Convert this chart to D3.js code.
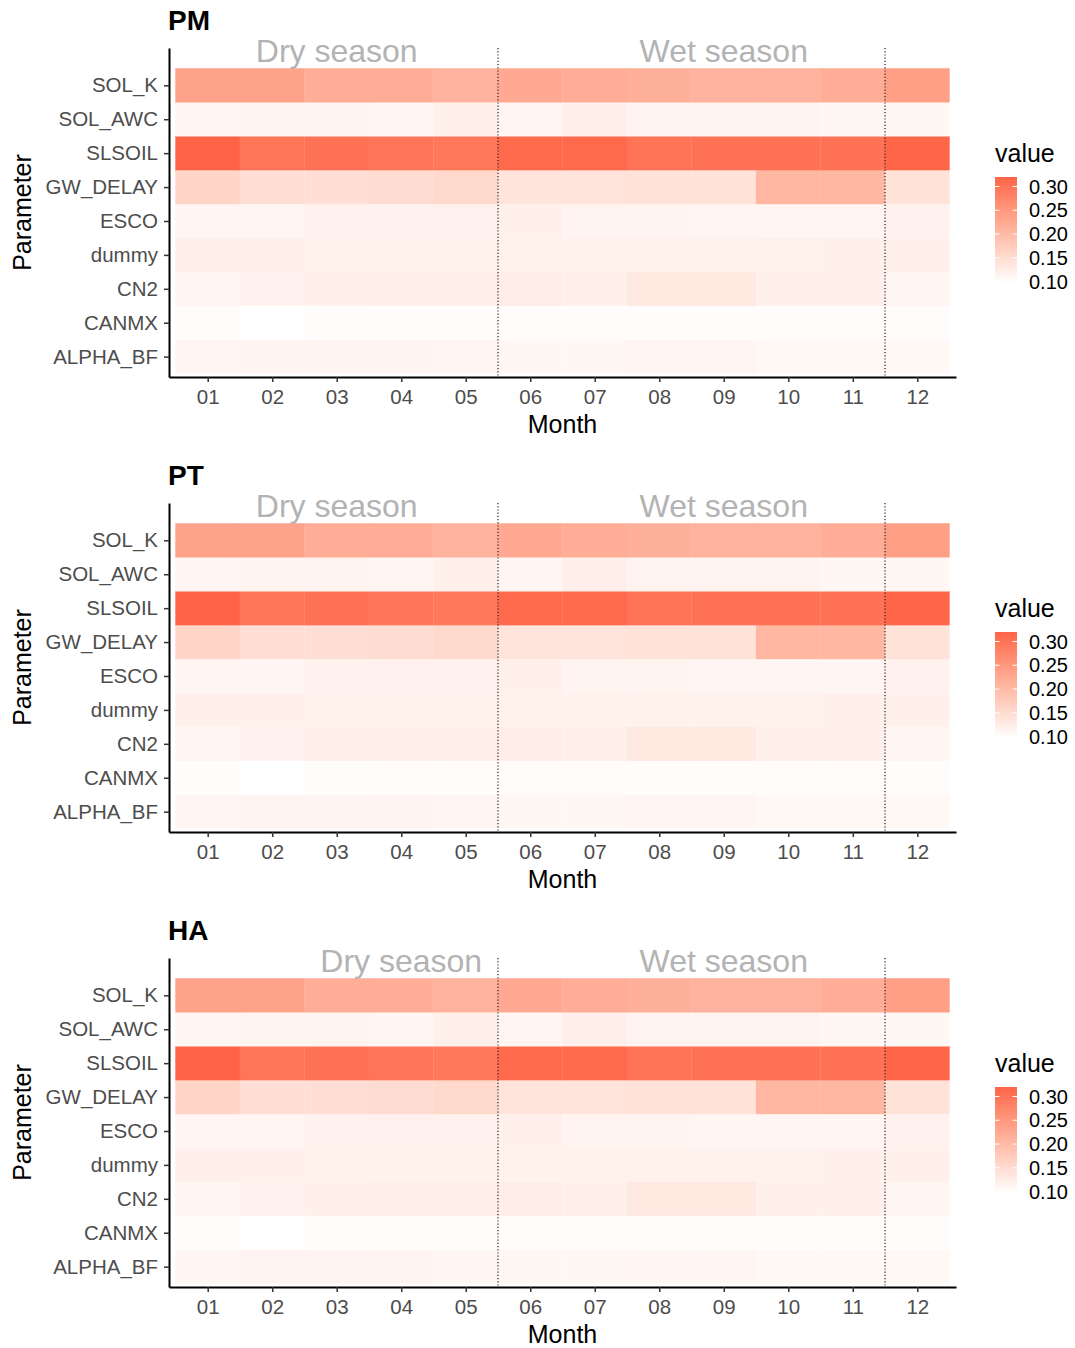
<!DOCTYPE html>
<html>
<head>
<meta charset="utf-8">
<script src="https://cdn.jsdelivr.net/npm/d3@7"></script>
<style>
  body { margin: 0; background: #fff; }
  svg text { font-family: "Liberation Sans", Arial, sans-serif; }
</style>
</head>
<body>
<svg id="chart"></svg>
<script>
const width = 1075;
const height = 1348;

// data
const panels = ["PM", "PT", "HA"];
const months = ["01", "02", "03", "04", "05", "06", "07", "08", "09", "10", "11", "12"];
// bottom to top
const params = ["ALPHA_BF", "CANMX", "CN2", "dummy", "ESCO", "GW_DELAY", "SLSOIL", "SOL_AWC", "SOL_K"];

const solK    = [0.235, 0.235, 0.220, 0.220, 0.212, 0.225, 0.220, 0.215, 0.212, 0.212, 0.220, 0.240];
const solAwc  = [0.112, 0.114, 0.114, 0.111, 0.119, 0.110, 0.122, 0.115, 0.115, 0.115, 0.109, 0.109];
const slsoil  = [0.320, 0.298, 0.302, 0.297, 0.294, 0.312, 0.312, 0.300, 0.302, 0.302, 0.302, 0.318];
const gwDelay = [0.160, 0.145, 0.145, 0.150, 0.155, 0.138, 0.138, 0.140, 0.140, 0.205, 0.205, 0.140];
const esco    = [0.112, 0.112, 0.116, 0.116, 0.116, 0.119, 0.114, 0.114, 0.110, 0.110, 0.112, 0.116];
const dummy   = [0.119, 0.119, 0.117, 0.117, 0.117, 0.117, 0.117, 0.117, 0.117, 0.118, 0.119, 0.119];
const cn2     = [0.112, 0.116, 0.119, 0.122, 0.122, 0.124, 0.119, 0.132, 0.132, 0.119, 0.119, 0.112];
const canmx   = [0.101, 0.097, 0.100, 0.102, 0.102, 0.102, 0.102, 0.101, 0.101, 0.102, 0.101, 0.101];
const alphaBf = [0.110, 0.113, 0.113, 0.113, 0.112, 0.109, 0.109, 0.111, 0.111, 0.108, 0.108, 0.108];

const rows = {
    "SOL_K": solK, "SOL_AWC": solAwc, "SLSOIL": slsoil, "GW_DELAY": gwDelay,
    "ESCO": esco, "dummy": dummy, "CN2": cn2, "CANMX": canmx, "ALPHA_BF": alphaBf
};

// season labels: month position of each label per panel
const dryAt = [3, 3, 4];
const wetAt = [9, 9, 9];
const seasonBreaks = [5.5, 11.5];
const legendBreaks = [0.10, 0.15, 0.20, 0.25, 0.30];

const cells = [];
params.forEach(p => rows[p].forEach((v, i) => cells.push({ param: p, month: i + 1, value: v })));

const extent = d3.extent(cells, d => d.value);
const color = d3.scaleLinear()
    .domain(extent)
    .range(["white", "tomato"])
    .interpolate(d3.interpolateLab);

const svg = d3.select("#chart")
    .attr("width", width)
    .attr("height", height);

const panelGap = 455;
const plotLeft = 169, plotRight = 956, plotTop = 48, plotBottom = 377;

const x = d3.scaleLinear().domain([0.4, 12.6]).range([plotLeft, plotRight]);
const y = d3.scaleLinear().domain([0.4, 10.1]).range([plotBottom, plotTop]);

// legend gradient
const defs = svg.append("defs");
const grad = defs.append("linearGradient")
    .attr("id", "legendGrad")
    .attr("x1", 0).attr("y1", 1).attr("x2", 0).attr("y2", 0);
d3.range(0, 1.0001, 0.05).forEach(t => {
    grad.append("stop")
        .attr("offset", t)
        .attr("stop-color", color(extent[0] + t * (extent[1] - extent[0])));
});

panels.forEach((name, pi) => {
    const g = svg.append("g").attr("transform", `translate(0,${pi * panelGap})`);

    g.selectAll("rect.tile")
        .data(cells)
        .enter().append("rect")
        .attr("class", "tile")
        .attr("x", d => x(d.month - 0.5))
        .attr("y", d => y(params.indexOf(d.param) + 1.5))
        .attr("width", x(1) - x(0))
        .attr("height", y(0) - y(1))
        .attr("fill", d => color(d.value))
        .attr("stroke", d => color(d.value))
        .attr("stroke-width", 0.3);

    // season separators
    g.selectAll("line.sep")
        .data(seasonBreaks)
        .enter().append("line")
        .attr("class", "sep")
        .attr("x1", d => x(d)).attr("x2", d => x(d))
        .attr("y1", plotTop).attr("y2", plotBottom)
        .attr("stroke", "#222")
        .attr("stroke-width", 1.2)
        .attr("stroke-dasharray", "1.2,2");

    g.append("text")
        .attr("x", x(dryAt[pi]))
        .attr("y", y(10) + 11)
        .attr("text-anchor", "middle")
        .attr("fill", "#b3b3b3")
        .style("font-size", "32px")
        .text("Dry season");

    g.append("text")
        .attr("x", x(wetAt[pi]))
        .attr("y", y(10) + 11)
        .attr("text-anchor", "middle")
        .attr("fill", "#b3b3b3")
        .style("font-size", "32px")
        .text("Wet season");

    // axes
    const xAxis = g.append("g")
        .attr("transform", `translate(0,${plotBottom})`)
        .call(d3.axisBottom(x)
            .tickValues(d3.range(1, 13))
            .tickFormat(d => months[d - 1])
            .tickSize(5)
            .tickSizeOuter(0)
            .tickPadding(7));

    const yAxis = g.append("g")
        .attr("transform", `translate(${plotLeft},0)`)
        .call(d3.axisLeft(y)
            .tickValues(d3.range(1, 10))
            .tickFormat(d => params[d - 1])
            .tickSize(5)
            .tickSizeOuter(0)
            .tickPadding(6));

    [xAxis, yAxis].forEach(a => {
        a.select(".domain").attr("stroke", "#000").attr("stroke-width", 2);
        a.selectAll(".tick line").attr("stroke", "#333").attr("stroke-width", 1.5);
        a.selectAll(".tick text")
            .attr("fill", "#4d4d4d")
            .style("font-size", "20.5px")
            .style("font-family", "'Liberation Sans', Arial, sans-serif");
    });

    g.append("text")
        .attr("x", 168)
        .attr("y", 30)
        .style("font-size", "28px")
        .style("font-weight", "bold")
        .text(name);

    g.append("text")
        .attr("x", (plotLeft + plotRight) / 2)
        .attr("y", 433)
        .attr("text-anchor", "middle")
        .style("font-size", "25px")
        .text("Month");

    g.append("text")
        .attr("transform", `translate(31,${(plotTop + plotBottom) / 2}) rotate(-90)`)
        .attr("text-anchor", "middle")
        .style("font-size", "25px")
        .text("Parameter");

    // legend
    const lx = 995, barW = 22;
    const ly = d3.scaleLinear().domain(extent).range([283, 177]);

    g.append("text")
        .attr("x", lx)
        .attr("y", 162)
        .style("font-size", "25px")
        .text("value");

    g.append("rect")
        .attr("x", lx)
        .attr("y", ly(extent[1]))
        .attr("width", barW)
        .attr("height", ly(extent[0]) - ly(extent[1]))
        .attr("fill", "url(#legendGrad)");

    const lt = g.selectAll("g.ltick")
        .data(legendBreaks)
        .enter().append("g")
        .attr("class", "ltick")
        .attr("transform", d => `translate(0,${ly(d)})`);

    lt.append("line")
        .attr("x1", lx).attr("x2", lx + 4.5)
        .attr("stroke", "white").attr("stroke-width", 1);
    lt.append("line")
        .attr("x1", lx + barW - 4.5).attr("x2", lx + barW)
        .attr("stroke", "white").attr("stroke-width", 1);
    lt.append("text")
        .attr("x", 1029)
        .attr("dy", "0.35em")
        .style("font-size", "20px")
        .text(d => d3.format(".2f")(d));
});
</script>
</body>
</html>
